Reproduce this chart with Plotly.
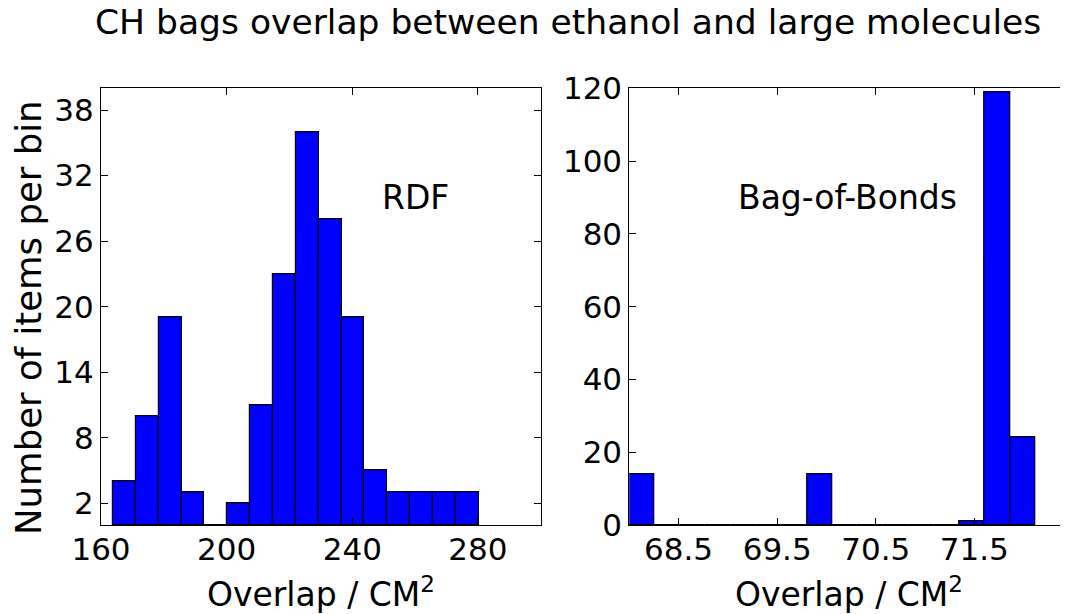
import numpy as np
import plotly.graph_objects as go

# ---------------- data ----------------
title_text = "CH bags overlap between ethanol and large molecules"

rdf_counts = [4, 10, 19, 3, 0, 2, 11, 23, 36, 28, 19, 5, 3, 3, 3, 3]
rdf_bin_min = 163.8
rdf_bin_max = 280.3

bob_counts = [14, 0, 0, 0, 0, 0, 0, 14, 0, 0, 0, 0, 0, 1, 119, 24]
bob_bin_min = 68.0
bob_bin_max = 72.12

rdf_yticks = [2, 8, 14, 20, 26, 32, 38]
rdf_xticks = [160, 200, 240, 280]
bob_yticks = [0, 20, 40, 60, 80, 100, 120]
bob_xticks = [68.5, 69.5, 70.5, 71.5]

# ---------------- figure ----------------
# the page body has an 8px margin, so the figure is sized to fit the window
OFF = 8
W, H = 1068 - OFF, 614 - OFF
FONT = "DejaVu Sans"
BLUE = "#0000ff"


def hist_bars(counts, lo, hi, xa, ya):
    edges = np.linspace(lo, hi, len(counts) + 1)
    centers = (edges[:-1] + edges[1:]) / 2
    width = edges[1] - edges[0]
    return go.Bar(
        x=centers, y=counts, width=[width] * len(counts),
        marker=dict(color=BLUE, line=dict(color="black", width=1.2)),
        xaxis=xa, yaxis=ya, showlegend=False, hoverinfo="skip",
    )


fig = go.Figure()
fig.add_trace(hist_bars(rdf_counts, rdf_bin_min, rdf_bin_max, "x", "y"))
fig.add_trace(hist_bars(bob_counts, bob_bin_min, bob_bin_max, "x2", "y2"))


def px_x(p):  # page pixel -> paper fraction
    return (p - OFF) / W


def px_y(p):
    return 1 - (p - OFF) / H


ydom = [px_y(525), px_y(88.3)]

axis_common = dict(
    showline=True, linecolor="black", linewidth=1, mirror="ticks",
    ticks="inside", ticklen=7, tickwidth=1, tickcolor="black",
    showgrid=False, zeroline=False, automargin=False,
    tickfont=dict(family=FONT, size=31, color="black"),
)

fig.update_layout(
    width=W, height=H,
    autosize=False,
    margin=dict(l=0, r=0, t=0, b=0, pad=0, autoexpand=False),
    paper_bgcolor="white", plot_bgcolor="white",
    font=dict(family=FONT, color="black"),
    xaxis=dict(domain=[px_x(101), px_x(540.7)], range=[160, 300],
               tickvals=rdf_xticks, anchor="y", ticklabelstandoff=-3,
               **axis_common),
    yaxis=dict(domain=ydom, range=[0, 40], tickvals=rdf_yticks,
               anchor="x", **axis_common),
    xaxis2=dict(domain=[px_x(629.3), 1.0], range=[68.0, 72.45],
                tickvals=bob_xticks, ticktext=[f"{v:.1f}" for v in bob_xticks],
                anchor="y2", ticklabelstandoff=-3, **axis_common),
    yaxis2=dict(domain=ydom, range=[0, 120], tickvals=bob_yticks,
                anchor="x2", **axis_common),
    bargap=0,
)

ann_font = dict(family=FONT, size=33, color="black")
fig.add_annotation(text=title_text, xref="paper", yref="paper",
                   x=px_x(568), y=px_y(22), xanchor="center", yanchor="middle",
                   showarrow=False, font=dict(family=FONT, size=34.5, color="black"))
fig.add_annotation(text="RDF", xref="x", yref="y", x=260, y=30,
                   xanchor="center", yanchor="middle", showarrow=False, font=ann_font)
fig.add_annotation(text="Bag-of-Bonds", xref="x2", yref="y2", x=70.21, y=90,
                   xanchor="center", yanchor="middle", showarrow=False, font=ann_font)
xlabel = "Overlap / CM<sup>2</sup>"
fig.add_annotation(text=xlabel, xref="paper", yref="paper",
                   x=px_x(321), y=px_y(592), xanchor="center", yanchor="middle",
                   showarrow=False, font=ann_font)
fig.add_annotation(text=xlabel, xref="paper", yref="paper",
                   x=px_x(849), y=px_y(592), xanchor="center", yanchor="middle",
                   showarrow=False, font=ann_font)
fig.add_annotation(text="Number of items per bin", xref="paper", yref="paper",
                   x=px_x(28), y=px_y(318), xanchor="center", yanchor="middle",
                   textangle=-90, showarrow=False,
                   font=dict(family=FONT, size=35.5, color="black"))

fig.write_html("out.html")
